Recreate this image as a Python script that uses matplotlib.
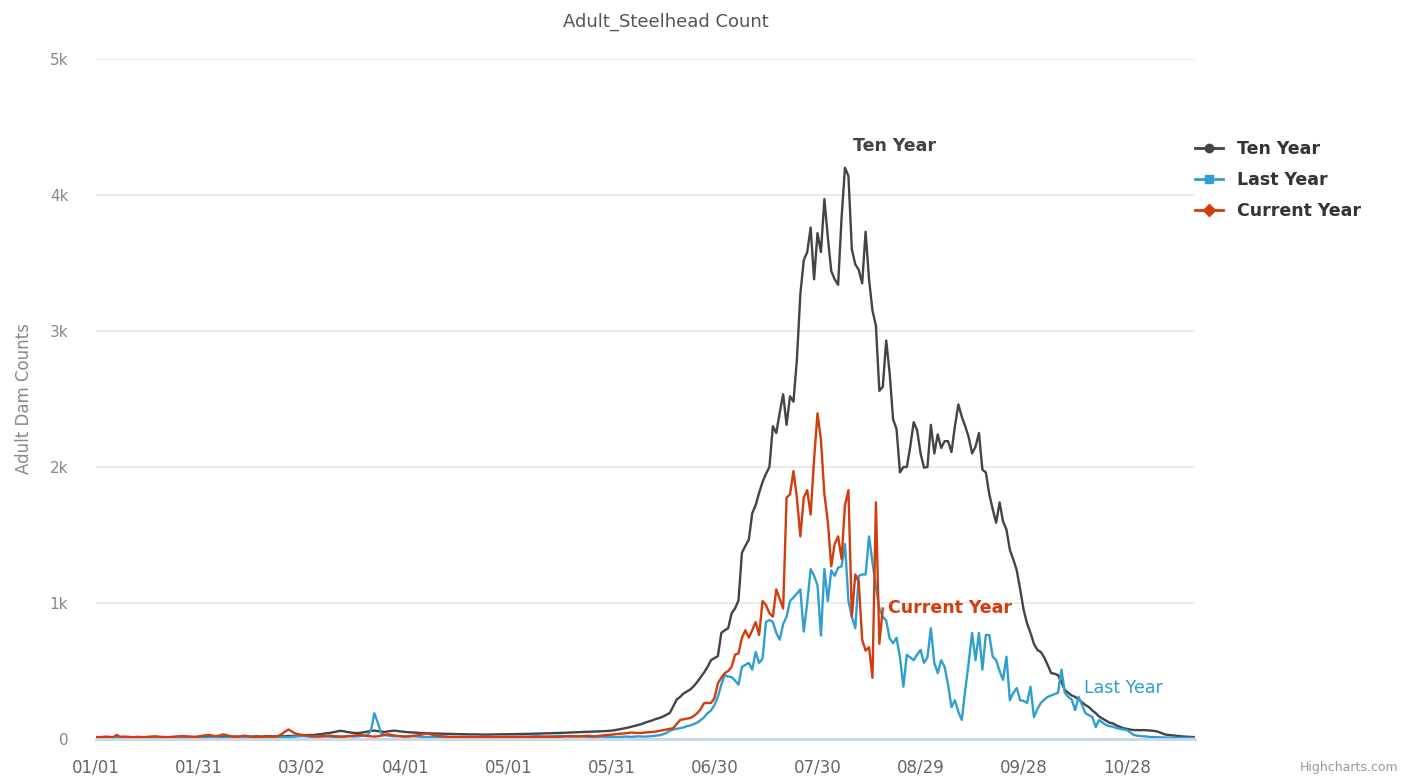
import numpy as np
import matplotlib.pyplot as plt
from matplotlib.lines import Line2D

# daily counts, day 0 = 01/01
ten_year = [
    10, 12, 11, 13, 12, 10, 11, 14, 12, 13, 11, 12, 14, 13, 12, 11, 13, 15, 14, 12, 13, 14, 12, 15, 14, 13, 15, 16, 14, 15,
    15, 16, 14, 17, 15, 16, 18, 17, 16, 15, 17, 18, 16, 19, 18, 17, 19, 20, 18, 19, 21, 20, 19, 22, 21, 20, 23, 22, 24, 25,
    26, 28, 30, 29, 32, 35, 38, 42, 45, 50, 55, 60, 58, 52, 48, 45, 44, 46, 50, 55, 60, 62, 58, 55, 52, 56, 60, 62, 58, 55,
    52, 50, 48, 47, 45, 44, 43, 42, 41, 40, 40, 39, 38, 38, 37, 36, 36, 35, 35, 34, 34, 34, 33, 33, 33, 33, 34, 34, 35, 35,
    35, 36, 36, 37, 37, 38, 38, 39, 40, 40, 41, 42, 42, 43, 44, 45, 46, 47, 48, 49, 50, 51, 52, 53, 54, 55, 56, 57, 58, 60,
    62, 65, 70, 75, 80, 85, 92, 98, 105, 112, 122, 130, 138, 148, 155, 165, 178, 192, 240, 290,
    310, 335, 350, 365, 390, 420, 455, 490, 530, 580, 595, 610, 780, 800, 815, 925, 960, 1020, 1370, 1420,
    1465, 1660, 1720, 1810, 1890, 1950, 2000, 2300, 2250, 2400, 2535, 2310, 2520, 2480, 2790, 3270, 3520, 3580, 3760, 3380,
    3720, 3580, 3970, 3690, 3440, 3380, 3340, 3830, 4200, 4140, 3600, 3490, 3450, 3350, 3730, 3380, 3150, 3040, 2560, 2590,
    2930, 2690, 2350, 2280, 1960, 2000, 2000, 2150, 2330, 2270, 2100, 1995, 2000, 2310, 2100, 2240, 2140, 2190, 2190, 2110,
    2300, 2460, 2370, 2300, 2220, 2100, 2150, 2250, 1980, 1960, 1800, 1690, 1590, 1740, 1600, 1540, 1390, 1320, 1240, 1100,
    950, 850, 780, 700, 655, 640, 600, 545, 485, 480, 470, 420, 360, 340, 320, 310, 290, 270, 250, 235,
    210, 190, 165, 150, 135, 120, 115, 100, 90, 80, 75, 70, 66, 66, 65, 66, 64, 62, 60, 55,
    45, 35, 30, 28, 25, 22, 20, 18, 16, 15, 14,
]

last_year = [
    5, 6, 8, 7, 6, 5, 7, 8, 9, 7, 6, 8, 10, 9, 8, 7, 9, 10, 8, 7, 6, 8, 9, 10, 8, 7, 9, 8, 10, 12,
    10, 9, 8, 10, 12, 11, 9, 8, 10, 12, 14, 12, 10, 11, 13, 12, 10, 9, 11, 12, 10, 14, 16, 18, 15, 12, 14, 16, 18, 20,
    22, 20, 18, 16, 18, 20, 22, 20, 18, 16, 15, 18, 20, 22, 20, 18, 20, 22, 25, 30, 60, 190, 120, 40, 30, 25, 22, 20, 22, 20,
    18, 20, 22, 20, 18, 16, 15, 14, 15, 16, 15, 14, 13, 14, 15, 16, 15, 14, 13, 12, 14, 15, 16, 15, 14, 13, 14, 15, 16, 15,
    16, 18, 17, 16, 15, 16, 18, 20, 22, 20, 18, 16, 18, 20, 22, 24, 22, 20, 18, 20, 22, 20, 18, 16, 15, 14, 16, 18, 17, 16,
    15, 14, 15, 16, 18, 17, 16, 18, 20, 18, 18, 20, 22, 25, 28, 35, 45, 60, 70, 75,
    80, 85, 95, 100, 110, 120, 140, 160, 190, 210, 250, 310, 400, 470, 460, 455, 430, 400, 530, 545,
    560, 510, 640, 560, 590, 860, 875, 860, 780, 730, 845, 900, 1015, 1040, 1070, 1100, 790, 1000, 1250, 1200,
    1130, 760, 1250, 1015, 1240, 1200, 1260, 1270, 1435, 1015, 900, 815, 1200, 1210, 1210, 1490, 1300, 1125, 960, 900,
    870, 740, 705, 745, 600, 385, 620, 600, 580, 620, 655, 560, 600, 815, 560, 485, 580, 530, 400, 235,
    285, 200, 140, 360, 560, 780, 580, 780, 510, 765, 765, 605, 580, 500, 435, 605, 285, 340, 375, 285,
    280, 265, 385, 162, 220, 265, 290, 310, 320, 330, 340, 510, 340, 310, 290, 213, 310, 250, 190, 175,
    162, 88, 140, 120, 103, 95, 90, 81, 75, 70, 66, 50, 30, 25, 22, 20, 18, 15, 14, 13,
    12, 11, 10, 10, 9, 9, 8, 8, 8, 7, 7,
]

current_year = [
    15, 14, 16, 18, 15, 14, 30, 16, 18, 17, 15, 14, 16, 15, 14, 16, 18, 20, 18, 16, 15, 14, 16, 18, 20, 22, 20, 18, 17, 16,
    20, 25, 28, 30, 24, 22, 26, 35, 28, 22, 18, 16, 20, 25, 22, 18, 15, 14, 16, 18, 20, 18, 16, 22, 35, 55, 70, 55, 40, 35,
    30, 28, 25, 22, 20, 18, 20, 22, 25, 22, 20, 18, 16, 20, 22, 25, 30, 28, 25, 22, 20, 18, 20, 25, 30, 35, 30, 25, 22, 20,
    18, 20, 22, 25, 28, 35, 40, 38, 30, 25, 22, 20, 18, 16, 15, 14, 15, 16, 15, 14, 13, 14, 15, 16, 15, 14, 13, 14, 15, 16,
    15, 14, 15, 16, 17, 16, 15, 14, 15, 16, 17, 18, 17, 16, 15, 16, 18, 20, 22, 20, 18, 20, 22, 24, 22, 20, 22, 25, 28, 30,
    32, 35, 38, 40, 42, 45, 48, 45, 45, 45, 48, 50, 52, 55, 60, 65, 70, 75, 80, 110,
    140, 145, 150, 155, 170, 190, 220, 265, 265, 265, 300, 410, 450, 485, 500, 530, 620, 630, 745, 800,
    745, 800, 860, 765, 1015, 985, 925, 900, 1100, 1030, 960, 1775, 1800, 1970, 1775, 1490, 1775, 1830, 1650, 2055,
    2395, 2200, 1800, 1600, 1270, 1435, 1490, 1325, 1720, 1830, 900, 1210, 1155, 730, 650, 675, 450, 1740, 700, 960,
]

tick_days = [0, 30, 60, 90, 120, 150, 180, 210, 240, 270, 300]
tick_labels = ['01/01', '01/31', '03/02', '04/01', '05/01', '05/31',
               '06/30', '07/30', '08/29', '09/28', '10/28']
series_names = ['Ten Year', 'Last Year', 'Current Year']
colors = ['#434348', '#2e9fd0', '#d33c0c']
markers = ['o', 's', 'D']

fig = plt.figure(figsize=(14.13, 7.79), dpi=100)
ax = fig.add_axes([0.068, 0.0513, 0.778, 0.873])

for name, vals, c in zip(series_names, [ten_year, last_year, current_year], colors):
    ax.plot(np.arange(len(vals)), vals, color=c, lw=1.7, label=name)

ax.set_xlim(0, 320)
ax.set_ylim(0, 5000)
ax.set_yticks([0, 1000, 2000, 3000, 4000, 5000])
ax.set_yticklabels(['0', '1k', '2k', '3k', '4k', '5k'])
ax.set_xticks(tick_days)
ax.set_xticklabels(tick_labels)
ax.tick_params(axis='y', length=0, pad=20, labelsize=11, labelcolor='#888888')
ax.tick_params(axis='x', length=0, pad=14, labelsize=12, labelcolor='#666666')
ax.grid(axis='y', color='#e6e6e6', lw=1.2)
ax.set_axisbelow(True)
for s in ['left', 'right', 'top']:
    ax.spines[s].set_visible(False)
ax.spines['bottom'].set_color('#ccd6eb')
ax.spines['bottom'].set_linewidth(2)

ax.set_ylabel('Adult Dam Counts', fontsize=12, color='#888888', labelpad=12)
fig.text(0.471, 0.972, 'Adult_Steelhead Count', ha='center', va='center',
         fontsize=13, color='#555555')

# series labels
ax.annotate('Ten Year', xy=(np.argmax(ten_year), max(ten_year)), xytext=(36, 16),
            textcoords='offset points', ha='center', va='center', fontsize=12.5,
            color='#434348', fontweight='bold')
ax.annotate('Current Year', xy=(len(current_year) - 1, current_year[-1]), xytext=(4, 0),
            textcoords='offset points', ha='left', va='center', fontsize=12.5,
            color='#d33c0c', fontweight='bold')
ax.annotate('Last Year', xy=(281, last_year[281]), xytext=(16, -13),
            textcoords='offset points', ha='left', va='center', fontsize=12.5,
            color='#2e9fd0')

# legend
handles = [Line2D([], [], color=c, lw=2, marker=m, markersize=6) for c, m in zip(colors, markers)]
leg = fig.legend(handles, series_names, loc='upper left', bbox_to_anchor=(0.835, 0.84),
                 frameon=False, handlelength=1.6, labelspacing=0.75,
                 prop={'weight': 'bold', 'size': 12.5})
for t in leg.get_texts():
    t.set_color('#333333')

fig.text(0.99, 0.015, 'Highcharts.com', ha='right', va='center', fontsize=9, color='#999999')

fig.savefig('out.png', dpi=100)
